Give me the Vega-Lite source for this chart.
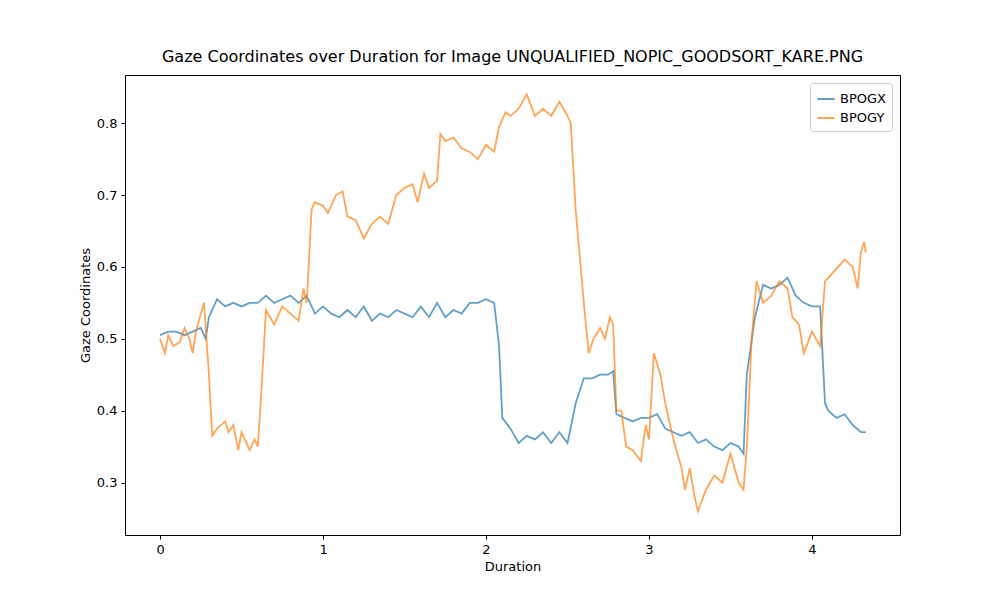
{
  "$schema": "https://vega.github.io/schema/vega-lite/v6.json",
  "width": 775,
  "height": 460,
  "autosize": "none",
  "padding": {"left": 125, "top": 75, "right": 100, "bottom": 65},
  "title": {"text": "Gaze Coordinates over Duration for Image UNQUALIFIED_NOPIC_GOODSORT_KARE.PNG", "fontSize": 16, "fontWeight": "normal", "font": "DejaVu Sans", "offset": 10, "color": "black"},
  "datasets": {
    "gx": [
      [0,0.505],[0.05,0.51],[0.1,0.51],[0.15,0.505],[0.2,0.51],[0.25,0.515],[0.28,0.5],[0.3,0.53],[0.35,0.555],[0.4,0.545],[0.45,0.55],[0.5,0.545],[0.55,0.55],[0.6,0.55],[0.65,0.56],[0.7,0.55],[0.75,0.555],[0.8,0.56],[0.85,0.55],[0.9,0.56],[0.95,0.535],[1.0,0.545],[1.05,0.535],[1.1,0.53],[1.15,0.54],[1.2,0.53],[1.25,0.545],[1.3,0.525],[1.35,0.535],[1.4,0.53],[1.45,0.54],[1.5,0.535],[1.55,0.53],[1.6,0.545],[1.65,0.53],[1.7,0.55],[1.75,0.53],[1.8,0.54],[1.85,0.535],[1.9,0.55],[1.95,0.55],[2.0,0.555],[2.05,0.55],[2.08,0.49],[2.1,0.39],[2.15,0.375],[2.2,0.355],[2.25,0.365],[2.3,0.36],[2.35,0.37],[2.4,0.355],[2.45,0.37],[2.5,0.355],[2.55,0.41],[2.6,0.445],[2.65,0.445],[2.7,0.45],[2.75,0.45],[2.78,0.455],[2.8,0.395],[2.85,0.39],[2.9,0.385],[2.95,0.39],[3.0,0.39],[3.05,0.395],[3.1,0.375],[3.15,0.37],[3.2,0.365],[3.25,0.37],[3.3,0.355],[3.35,0.36],[3.4,0.35],[3.45,0.345],[3.5,0.355],[3.55,0.35],[3.58,0.34],[3.6,0.45],[3.65,0.53],[3.7,0.575],[3.75,0.57],[3.8,0.575],[3.85,0.585],[3.9,0.56],[3.95,0.55],[4.0,0.545],[4.05,0.545],[4.08,0.41],[4.1,0.4],[4.15,0.39],[4.2,0.395],[4.25,0.38],[4.3,0.37],[4.33,0.37]
    ],
    "gy": [
      [0,0.5],[0.03,0.48],[0.05,0.505],[0.08,0.49],[0.12,0.495],[0.15,0.515],[0.18,0.5],[0.2,0.48],[0.22,0.51],[0.25,0.535],[0.27,0.55],[0.3,0.45],[0.32,0.365],[0.35,0.375],[0.4,0.385],[0.42,0.37],[0.45,0.38],[0.48,0.345],[0.5,0.37],[0.55,0.345],[0.58,0.36],[0.6,0.35],[0.62,0.42],[0.65,0.54],[0.7,0.52],[0.75,0.545],[0.8,0.535],[0.85,0.525],[0.88,0.57],[0.9,0.55],[0.93,0.68],[0.95,0.69],[1.0,0.685],[1.03,0.675],[1.08,0.7],[1.12,0.705],[1.15,0.67],[1.2,0.665],[1.25,0.64],[1.3,0.66],[1.35,0.67],[1.4,0.66],[1.45,0.7],[1.5,0.71],[1.55,0.715],[1.58,0.69],[1.62,0.73],[1.65,0.71],[1.7,0.72],[1.72,0.785],[1.75,0.775],[1.8,0.78],[1.85,0.765],[1.9,0.76],[1.95,0.75],[2.0,0.77],[2.05,0.76],[2.08,0.795],[2.12,0.815],[2.15,0.81],[2.2,0.82],[2.25,0.84],[2.3,0.81],[2.35,0.82],[2.4,0.81],[2.45,0.83],[2.5,0.81],[2.52,0.8],[2.55,0.68],[2.6,0.55],[2.63,0.48],[2.66,0.5],[2.7,0.515],[2.73,0.5],[2.76,0.53],[2.78,0.52],[2.8,0.4],[2.83,0.4],[2.86,0.35],[2.9,0.345],[2.95,0.33],[2.98,0.38],[3.0,0.36],[3.03,0.48],[3.07,0.45],[3.1,0.41],[3.15,0.36],[3.2,0.32],[3.22,0.29],[3.25,0.32],[3.28,0.28],[3.3,0.26],[3.35,0.29],[3.4,0.31],[3.45,0.3],[3.5,0.34],[3.55,0.3],[3.58,0.29],[3.6,0.35],[3.63,0.5],[3.66,0.58],[3.7,0.55],[3.75,0.56],[3.8,0.58],[3.85,0.57],[3.88,0.53],[3.92,0.52],[3.95,0.48],[4.0,0.51],[4.05,0.49],[4.08,0.58],[4.12,0.59],[4.16,0.6],[4.2,0.61],[4.25,0.6],[4.28,0.57],[4.3,0.62],[4.32,0.635],[4.33,0.62]
    ]
  },
  "layer": [
    {
      "data": {"name": "gx"},
      "transform": [{"calculate": "datum[0]", "as": "Duration"}, {"calculate": "datum[1]", "as": "v"}, {"calculate": "'BPOGX'", "as": "series"}],
      "mark": {"type": "line", "strokeWidth": 1.8, "opacity": 0.7},
      "encoding": {
        "x": {"field": "Duration", "type": "quantitative"},
        "y": {"field": "v", "type": "quantitative"},
        "color": {"field": "series", "type": "nominal"}
      }
    },
    {
      "data": {"name": "gy"},
      "transform": [{"calculate": "datum[0]", "as": "Duration"}, {"calculate": "datum[1]", "as": "v"}, {"calculate": "'BPOGY'", "as": "series"}],
      "mark": {"type": "line", "strokeWidth": 1.8, "opacity": 0.7},
      "encoding": {
        "x": {"field": "Duration", "type": "quantitative"},
        "y": {"field": "v", "type": "quantitative"},
        "color": {"field": "series", "type": "nominal"}
      }
    }
  ],
  "encoding": {
    "x": {"field": "Duration", "type": "quantitative", "title": "Duration", "scale": {"domain": [-0.215, 4.54], "nice": false, "zero": false}, "axis": {"values": [0, 1, 2, 3, 4], "format": "d"}},
    "y": {"field": "v", "type": "quantitative", "title": "Gaze Coordinates", "scale": {"domain": [0.227, 0.867], "nice": false, "zero": false}, "axis": {"values": [0.3, 0.4, 0.5, 0.6, 0.7, 0.8], "format": ".1f"}},
    "color": {"field": "series", "type": "nominal", "title": null, "scale": {"domain": ["BPOGX", "BPOGY"], "range": ["#1f77b4", "#ff7f0e"]}}
  },
  "resolve": {"scale": {"color": "shared"}},
  "config": {
    "font": "DejaVu Sans",
    "view": {"stroke": "black", "strokeWidth": 1},
    "axis": {"grid": false, "domain": false, "tickColor": "black", "tickSize": 4, "labelColor": "black", "labelFontSize": 13, "titleFontSize": 13, "titleFontWeight": "normal", "titleColor": "black", "labelPadding": 4},
    "legend": {"orient": "top-right", "offset": 8, "symbolType": "stroke", "symbolStrokeWidth": 2, "symbolSize": 300, "labelFontSize": 13, "labelColor": "black", "strokeColor": "#cccccc", "fillColor": "white", "padding": 6, "cornerRadius": 3, "symbolOpacity": 0.7}
  }
}
